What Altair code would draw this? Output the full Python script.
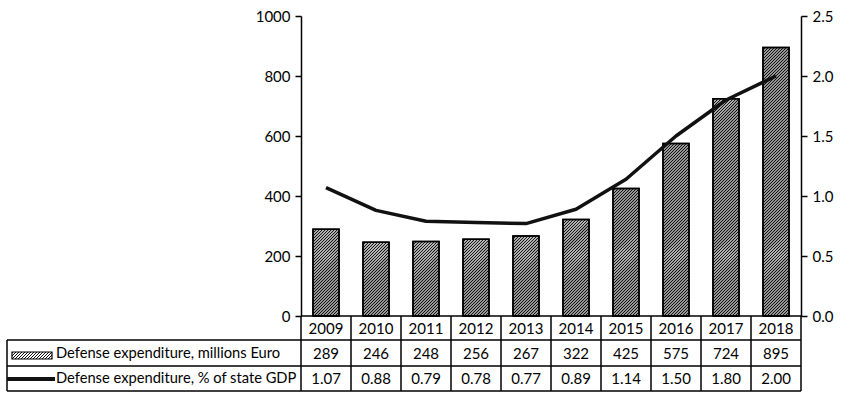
import altair as alt
import pandas as pd

# Defense spending 2009-2018
years = ["2009", "2010", "2011", "2012", "2013", "2014", "2015", "2016", "2017", "2018"]
spend_meur = [289, 246, 248, 256, 267, 322, 425, 575, 724, 895]
spend_gdp = [1.07, 0.88, 0.79, 0.78, 0.77, 0.89, 1.14, 1.50, 1.80, 2.00]

label_eur = "Defense expenditure, millions Euro"
label_gdp = "Defense expenditure, % of state GDP"

FONT = "Lato"
W, H = 500, 300            # plot area in px
N = len(years)
PX_X = W / N               # px per category slot
PX_Y = H / 1000            # px per million euro
BAR_PX = 26                # bar width in px
HATCH_STEP = 3             # horizontal spacing of the hatch lines, px


def hatch_segments(left_px, base_px, w_px, h_px):
    """Diagonal '////' segments clipped to a rectangle, returned in data units."""
    out = []
    c = -w_px + 1
    while c < h_px:
        xa = max(0.0, -c)
        xb = min(float(w_px), h_px - c)
        if xb > xa:
            out.append({
                "hx": (left_px + xa) / PX_X, "hy": (base_px + xa + c) / PX_Y,
                "hx2": (left_px + xb) / PX_X, "hy2": (base_px + xb + c) / PX_Y,
            })
        c += HATCH_STEP
    return out


df = pd.DataFrame({
    "idx": [i + 0.5 for i in range(N)],
    "x0": [i + 0.5 - BAR_PX / 2 / PX_X for i in range(N)],
    "x1": [i + 0.5 + BAR_PX / 2 / PX_X for i in range(N)],
    "year": years,
    "eur": spend_meur,
    "gdp": spend_gdp,
    "gdp_txt": [f"{v:.2f}" for v in spend_gdp],
})
one = pd.DataFrame({"k": [0]})   # single row for one-off table decorations

# hatch inside every bar, from the bar values
segs = []
for i, v in enumerate(spend_meur):
    segs += hatch_segments((i + 0.5) * PX_X - BAR_PX / 2, 0, BAR_PX, v * PX_Y)
hatch_df = pd.DataFrame(segs)

# legend key swatch in the table (below the baseline, left of the axis)
KEY_L, KEY_R, KEY_TOP, KEY_BOT = -289, -249, 336, 343
key_df = pd.DataFrame(hatch_segments(KEY_L, H - KEY_BOT, KEY_R - KEY_L, KEY_BOT - KEY_TOP))

xscale = alt.Scale(domain=[0, N], nice=False, zero=False)
yleft = alt.Scale(domain=[0, 1000], nice=False)
yright = alt.Scale(domain=[0, 2.5], nice=False)

axis_style = dict(
    grid=False, domainColor="black", domainWidth=1.5, tickColor="black",
    tickWidth=1.5, tickSize=6, labelFont=FONT, labelFontSize=15,
    labelColor="black", title=None, labelPadding=5,
)
left_axis = alt.Axis(values=[0, 200, 400, 600, 800, 1000], format="d",
                     orient="left", **axis_style)

bars = alt.Chart(df).mark_bar(fill="white", stroke="black", strokeWidth=1.5).encode(
    x=alt.X("x0:Q", scale=xscale, axis=None),
    x2="x1:Q",
    y=alt.Y("eur:Q", scale=yleft, axis=left_axis),
    y2=alt.datum(0),
)

hatch = alt.Chart(hatch_df).mark_rule(color="#111111", strokeWidth=1.15).encode(
    x=alt.X("hx:Q", scale=xscale, axis=None),
    x2="hx2:Q",
    y=alt.Y("hy:Q", scale=yleft, axis=left_axis),
    y2="hy2:Q",
)

key_hatch = alt.Chart(key_df).mark_rule(color="#111111", strokeWidth=1).encode(
    x=alt.X("hx:Q", scale=xscale, axis=None),
    x2="hx2:Q",
    y=alt.Y("hy:Q", scale=yleft, axis=left_axis),
    y2="hy2:Q",
)

bar_outline = alt.Chart(df).mark_bar(fill=None, stroke="black", strokeWidth=1.5).encode(
    x=alt.X("x0:Q", scale=xscale, axis=None),
    x2="x1:Q",
    y=alt.Y("eur:Q", scale=yleft, axis=left_axis),
    y2=alt.datum(0),
)

left_layers = alt.layer(bars, hatch, bar_outline, key_hatch)

line = alt.Chart(df).mark_line(color="#111111", strokeWidth=3.5, strokeJoin="round",
                               strokeCap="butt").encode(
    x=alt.X("idx:Q", scale=xscale, axis=None),
    y=alt.Y("gdp:Q", scale=yright,
            axis=alt.Axis(values=[0, 0.5, 1.0, 1.5, 2.0, 2.5], format=".1f",
                          orient="right", **axis_style)),
)

# ---- data table under the plot ----
TABLE_TOP = H
ROW1 = H + 24
ROW2 = H + 50
ROW3 = H + 75
LEFT = -294
LINE_W = 1.5


def hrule(y, x_from):
    return alt.Chart(one).mark_rule(color="black", strokeWidth=LINE_W).encode(
        x=alt.value(x_from), x2=alt.value(W), y=alt.value(y))


def vrule(x, y_from, y_to):
    return alt.Chart(one).mark_rule(color="black", strokeWidth=LINE_W).encode(
        x=alt.value(x), y=alt.value(y_from), y2=alt.value(y_to))


bounds = pd.DataFrame({"b": list(range(N + 1))})
col_lines = alt.Chart(bounds).mark_rule(color="black", strokeWidth=LINE_W).encode(
    x=alt.X("b:Q", scale=xscale, axis=None),
    y=alt.value(TABLE_TOP), y2=alt.value(ROW3),
)

text_kw = dict(font=FONT, fontSize=15, fontWeight=400, color="black",
               baseline="middle", align="center")

year_txt = alt.Chart(df).mark_text(**text_kw).encode(
    x=alt.X("idx:Q", scale=xscale, axis=None), y=alt.value((TABLE_TOP + ROW1) / 2 + 0.5),
    text="year:N")
eur_txt = alt.Chart(df).mark_text(**text_kw).encode(
    x=alt.X("idx:Q", scale=xscale, axis=None), y=alt.value((ROW1 + ROW2) / 2 + 0.5),
    text="eur:Q")
gdp_txt = alt.Chart(df).mark_text(**text_kw).encode(
    x=alt.X("idx:Q", scale=xscale, axis=None), y=alt.value((ROW2 + ROW3) / 2 + 0.5),
    text="gdp_txt:N")

lab_kw = dict(font=FONT, fontSize=14.7, fontWeight=400, color="black",
              baseline="middle", align="left")
lab_eur = alt.Chart(one).mark_text(text=label_eur, **lab_kw).encode(
    x=alt.value(-245), y=alt.value((ROW1 + ROW2) / 2 + 0.5))
lab_gdp = alt.Chart(one).mark_text(text=label_gdp, **lab_kw).encode(
    x=alt.value(-245), y=alt.value((ROW2 + ROW3) / 2 + 0.5))

key_box = alt.Chart(one).mark_rect(fill=None, stroke="black", strokeWidth=1.2).encode(
    x=alt.value(KEY_L), x2=alt.value(KEY_R), y=alt.value(KEY_TOP), y2=alt.value(KEY_BOT))
key_line = alt.Chart(one).mark_rule(color="#111111", strokeWidth=4).encode(
    x=alt.value(-294), x2=alt.value(-246), y=alt.value(ROW2 + 13))

table = alt.layer(
    col_lines,
    hrule(TABLE_TOP, 0), hrule(ROW1, LEFT), hrule(ROW2, LEFT), hrule(ROW3, LEFT),
    vrule(LEFT, ROW1, ROW3),
    year_txt, eur_txt, gdp_txt, lab_eur, lab_gdp, key_box, key_line,
)

chart = alt.layer(left_layers, line, table).resolve_scale(y="independent").properties(
    width=W, height=H,
    autosize=alt.AutoSizeParams(type="none"),
    padding={"left": 301, "top": 16, "right": 44, "bottom": 79},
    background="white",
).configure_view(stroke=None)

chart.save("out.html", embed_options={"renderer": "svg", "actions": False})
